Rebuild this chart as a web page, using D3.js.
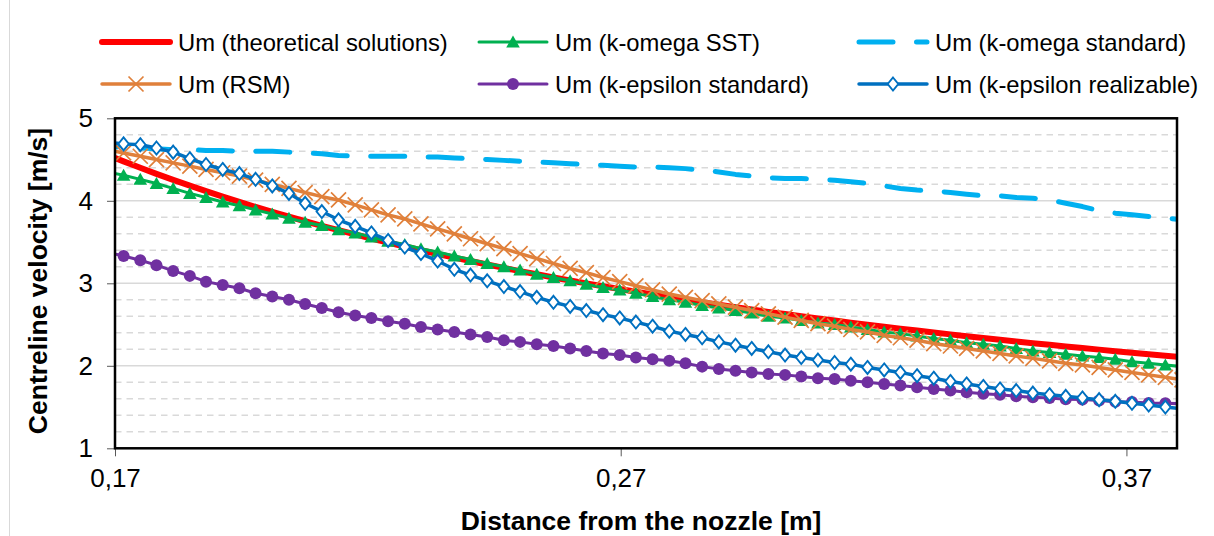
<!DOCTYPE html>
<html>
<head>
<meta charset="utf-8">
<script src="https://cdn.jsdelivr.net/npm/d3@7"></script>
<style>
  body { margin: 0; background: #fff; }
  svg { display: block; font-family: "Liberation Sans", Arial, sans-serif; }
</style>
</head>
<body>
<div id="chart"></div>
<script>
// distance from the nozzle [m]
const xValues = [0.1684,0.1717,0.1750,0.1782,0.1815,0.1848,0.1880,0.1913,0.1946,0.1978,
  0.2011,0.2044,0.2076,0.2109,0.2142,0.2175,0.2207,0.2240,0.2273,0.2305,
  0.2338,0.2371,0.2403,0.2436,0.2469,0.2501,0.2534,0.2567,0.2600,0.2632,
  0.2665,0.2698,0.2730,0.2763,0.2796,0.2828,0.2861,0.2894,0.2927,0.2959,
  0.2992,0.3025,0.3057,0.3090,0.3123,0.3155,0.3188,0.3221,0.3253,0.3286,
  0.3319,0.3352,0.3384,0.3417,0.3450,0.3482,0.3515,0.3548,0.3580,0.3613,
  0.3646,0.3678,0.3711,0.3744,0.3777,0.3810];

const umTheory = [4.559,4.478,4.400,4.327,4.254,4.183,4.117,4.050,3.986,3.926,
  3.866,3.807,3.752,3.697,3.644,3.592,3.543,3.494,3.446,3.401,
  3.355,3.311,3.270,3.228,3.187,3.148,3.109,3.071,3.034,2.999,
  2.964,2.930,2.897,2.864,2.832,2.801,2.770,2.740,2.711,2.683,
  2.654,2.627,2.600,2.574,2.548,2.523,2.498,2.473,2.450,2.427,
  2.403,2.381,2.359,2.337,2.316,2.295,2.274,2.254,2.235,2.215,
  2.196,2.177,2.159,2.140,2.122,2.105];

const umSST = [4.35,4.31,4.26,4.21,4.15,4.09,4.04,3.985,3.94,3.89,
  3.84,3.79,3.74,3.70,3.65,3.61,3.56,3.51,3.47,3.42,
  3.38,3.33,3.29,3.24,3.20,3.16,3.11,3.07,3.03,2.99,
  2.95,2.92,2.88,2.84,2.80,2.77,2.73,2.70,2.67,2.64,
  2.60,2.58,2.55,2.52,2.50,2.47,2.44,2.41,2.39,2.36,
  2.33,2.31,2.28,2.26,2.24,2.21,2.18,2.16,2.14,2.12,
  2.10,2.08,2.05,2.03,2.01,1.99];

const umKwStd = [4.66,4.65,4.64,4.63,4.62,4.62,4.61,4.61,4.60,4.60,
  4.60,4.59,4.58,4.57,4.55,4.54,4.54,4.54,4.54,4.53,
  4.53,4.52,4.51,4.50,4.49,4.48,4.47,4.46,4.45,4.44,
  4.43,4.42,4.41,4.41,4.40,4.39,4.37,4.35,4.32,4.30,
  4.28,4.27,4.27,4.26,4.25,4.23,4.21,4.18,4.15,4.13,
  4.12,4.10,4.08,4.06,4.06,4.04,4.03,4.01,3.97,3.93,
  3.88,3.85,3.83,3.81,3.79,3.77];

const umRSM = [4.62,4.58,4.54,4.50,4.46,4.42,4.38,4.34,4.30,4.25,
  4.20,4.15,4.10,4.05,4.01,3.95,3.89,3.83,3.78,3.72,
  3.66,3.60,3.54,3.48,3.42,3.36,3.30,3.24,3.18,3.13,
  3.07,3.02,2.97,2.92,2.87,2.83,2.79,2.75,2.71,2.67,
  2.63,2.59,2.55,2.51,2.48,2.44,2.41,2.37,2.34,2.31,
  2.27,2.24,2.21,2.18,2.15,2.12,2.09,2.06,2.03,2.01,
  1.98,1.95,1.92,1.89,1.86,1.83];

const umKeStd = [3.38,3.33,3.28,3.22,3.15,3.09,3.02,2.98,2.94,2.88,
  2.84,2.80,2.75,2.70,2.65,2.61,2.58,2.54,2.51,2.47,
  2.44,2.41,2.38,2.35,2.31,2.29,2.26,2.24,2.21,2.18,
  2.15,2.13,2.10,2.08,2.06,2.03,1.99,1.96,1.94,1.92,
  1.90,1.89,1.87,1.85,1.84,1.82,1.80,1.78,1.76,1.74,
  1.72,1.70,1.68,1.66,1.65,1.63,1.62,1.61,1.595,1.59,
  1.58,1.565,1.56,1.55,1.545,1.54];

const umKeReal = [4.71,4.69,4.68,4.64,4.59,4.51,4.44,4.38,4.33,4.26,
  4.18,4.09,3.97,3.87,3.77,3.69,3.61,3.52,3.44,3.36,
  3.27,3.17,3.10,3.03,2.96,2.90,2.83,2.77,2.72,2.67,
  2.62,2.58,2.53,2.48,2.42,2.38,2.34,2.29,2.25,2.21,
  2.17,2.13,2.10,2.07,2.04,2.02,1.98,1.95,1.92,1.88,
  1.85,1.81,1.78,1.75,1.72,1.70,1.67,1.65,1.63,1.61,
  1.59,1.57,1.545,1.525,1.50,1.48];

const xTicks = [0.17, 0.27, 0.37];
const yTicks = [1, 2, 3, 4, 5];
const yMinor = [1.2,1.4,1.6,1.8,2.2,2.4,2.6,2.8,3.2,3.4,3.6,3.8,4.2,4.4,4.6,4.8];

const W = 1214, H = 536;
const plot = { left: 115, right: 1177, top: 118.3, bottom: 448.3 };

const series = [
  { name: "Um (theoretical solutions)", values: umTheory, color: "#FF0000", width: 6, marker: null },
  { name: "Um (k-omega SST)", values: umSST, color: "#00B050", width: 3, marker: "triangle" },
  { name: "Um (k-omega standard)", values: umKwStd, color: "#00B0F0", width: 5, marker: null, dash: "34,23.5" },
  { name: "Um (RSM)", values: umRSM, color: "#E0803B", width: 3.5, marker: "cross" },
  { name: "Um (k-epsilon standard)", values: umKeStd, color: "#7030A0", width: 3, marker: "circle" },
  { name: "Um (k-epsilon realizable)", values: umKeReal, color: "#0070C0", width: 3.5, marker: "diamond" }
];

const locale = d3.formatLocale({ decimal: ",", thousands: " ", grouping: [3], currency: ["", ""] });
const fmtX = locale.format(".2f");

const svg = d3.select("#chart").append("svg")
  .attr("width", W)
  .attr("height", H);

const x = d3.scaleLinear().domain([0.17, 0.38]).range([plot.left, plot.right]);
const y = d3.scaleLinear().domain([1, 5]).range([plot.bottom, plot.top]);

// outer chart border (only the left edge is inside the picture)
svg.append("line")
  .attr("x1", 9.5).attr("x2", 9.5).attr("y1", 0).attr("y2", H)
  .attr("stroke", "#D9D9D9").attr("stroke-width", 1);

// gridlines
svg.append("g").selectAll("line").data(yMinor).enter().append("line")
  .attr("x1", plot.left).attr("x2", plot.right)
  .attr("y1", d => y(d)).attr("y2", d => y(d))
  .attr("stroke", "#D9D9D9").attr("stroke-width", 1.5)
  .attr("stroke-dasharray", "6.5,5");

svg.append("g").selectAll("line").data(yTicks).enter().append("line")
  .attr("x1", plot.left).attr("x2", plot.right)
  .attr("y1", d => y(d)).attr("y2", d => y(d))
  .attr("stroke", "#D9D9D9").attr("stroke-width", 1.5);

// axes
const yAxis = svg.append("g")
  .attr("transform", `translate(${plot.left},0)`)
  .call(d3.axisLeft(y).tickValues(yTicks).tickSize(8).tickPadding(14).tickFormat(d3.format("d")));
const xAxis = svg.append("g")
  .attr("transform", `translate(0,${plot.bottom})`)
  .call(d3.axisBottom(x).tickValues(xTicks).tickSize(8).tickPadding(12).tickFormat(fmtX));

[yAxis, xAxis].forEach(a => {
  a.select(".domain").remove();
  a.selectAll(".tick line").attr("stroke", "#595959").attr("stroke-width", 1);
  a.selectAll(".tick text")
    .attr("fill", "#000")
    .style("font-size", "26px")
    .style("font-family", "'Liberation Sans', Arial, sans-serif");
});

// clip for the data
svg.append("clipPath").attr("id", "plot-clip")
  .append("rect")
  .attr("x", plot.left).attr("y", plot.top)
  .attr("width", plot.right - plot.left).attr("height", plot.bottom - plot.top);

const dataG = svg.append("g").attr("clip-path", "url(#plot-clip)");

function drawMarker(g, type, color) {
  if (type === "triangle") {
    g.append("path").attr("d", "M0,-6.5L6.8,5.5L-6.8,5.5Z").attr("fill", color);
  } else if (type === "cross") {
    g.append("path").attr("d", "M-7.5,-7.5L7.5,7.5M-7.5,7.5L7.5,-7.5")
      .attr("stroke", color).attr("stroke-width", 1.7).attr("fill", "none");
  } else if (type === "circle") {
    g.append("circle").attr("r", 6).attr("fill", color);
  } else if (type === "diamond") {
    g.append("path").attr("d", "M0,-6.5L5.3,0L0,6.5L-5.3,0Z")
      .attr("fill", "#fff").attr("stroke", color).attr("stroke-width", 1.9);
  }
}

series.forEach(s => {
  const pts = xValues.map((xv, i) => [xv, s.values[i]]);
  const line = d3.line().x(d => x(d[0])).y(d => y(d[1]));
  const path = dataG.append("path")
    .datum(pts)
    .attr("d", line)
    .attr("fill", "none")
    .attr("stroke", s.color)
    .attr("stroke-width", s.width)
    .attr("stroke-linejoin", "round")
    .attr("stroke-linecap", "round");
  if (s.dash) {
    path.attr("stroke-dasharray", s.dash).attr("stroke-dashoffset", 23.4);
  }
  if (s.marker) {
    dataG.append("g").selectAll("g").data(pts).enter().append("g")
      .attr("transform", d => `translate(${x(d[0])},${y(d[1])})`)
      .each(function () { drawMarker(d3.select(this), s.marker, s.color); });
  }
});

// plot frame
svg.append("rect")
  .attr("x", plot.left).attr("y", plot.top)
  .attr("width", plot.right - plot.left).attr("height", plot.bottom - plot.top)
  .attr("fill", "none").attr("stroke", "#000").attr("stroke-width", 2.5);

// axis titles
svg.append("text")
  .attr("x", 641)
  .attr("y", 521)
  .attr("text-anchor", "middle")
  .attr("dominant-baseline", "central")
  .style("font-size", "26.5px").style("font-weight", "bold")
  .text("Distance from the nozzle [m]");

svg.append("text")
  .attr("transform", `translate(38,281) rotate(-90)`)
  .attr("text-anchor", "middle")
  .attr("dominant-baseline", "central")
  .style("font-size", "26.5px").style("font-weight", "bold")
  .text("Centreline velocity [m/s]");

// legend
const legendPos = [[100, 42], [477, 42], [857, 42], [100, 84], [477, 84], [857, 84]];
series.forEach((s, i) => {
  const [lx, ly] = legendPos[i];
  const g = svg.append("g").attr("transform", `translate(${lx},${ly})`);
  const ln = g.append("line")
    .attr("x1", 2).attr("x2", 70).attr("y1", 0).attr("y2", 0)
    .attr("stroke", s.color).attr("stroke-width", s.width)
    .attr("stroke-linecap", "round");
  if (s.dash) ln.attr("stroke-dasharray", s.dash);
  if (s.marker) {
    const m = g.append("g").attr("transform", "translate(36,0)");
    drawMarker(m, s.marker, s.color);
  }
  g.append("text")
    .attr("x", 78).attr("y", 0)
    .attr("dominant-baseline", "central")
    .style("font-size", "23.8px")
    .text(s.name);
});
</script>
</body>
</html>
